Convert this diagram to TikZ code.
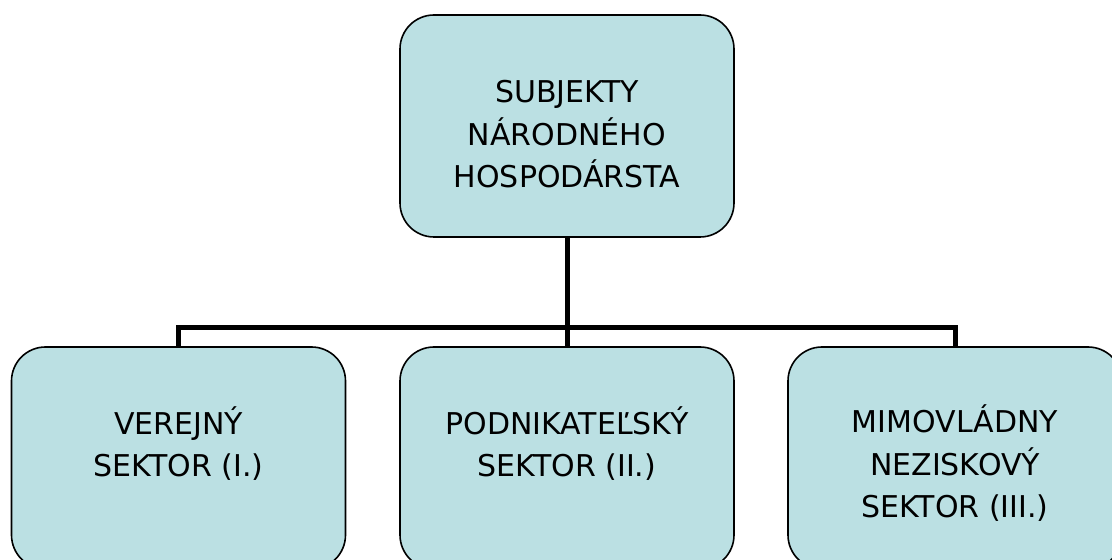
\documentclass[tikz,border=0pt]{standalone}
\usepackage{fontspec}
\setmainfont{DejaVu Sans}
\definecolor{boxfill}{RGB}{187,224,227}
\begin{document}
\begin{tikzpicture}[x=1pt,y=1pt,
  box/.style={draw=black, line width=1.6pt, fill=boxfill, rounded corners=34pt,
    minimum width=334pt, minimum height=222pt, inner sep=0pt},
  lbl/.style={align=center, inner sep=0pt, font=\fontsize{30}{42.5}\selectfont, anchor=base},
  conn/.style={draw=black, line width=5pt, line join=miter}]
\useasboundingbox (0,0) rectangle (1112,560);
\node[box] (top) at (567,434) {};
\node[box] (left) at (178.5,102) {};
\node[box] (mid) at (567,102) {};
\node[box] (right) at (955,102) {};
\coordinate (bar) at (567,232);
\draw[conn] (top.south) -- (bar);
\draw[conn] (left.north) -- (left.north |- bar) -- (right.north |- bar) -- (right.north);
\draw[conn] (mid.north) -- (bar);
\node[lbl] (ttop) at (567,372) {SUBJEKTY\\ NÁRODNÉHO\\HOSPODÁRSTA};
\node[lbl] (tleft) at (178.5,83) {VEREJNÝ\\SEKTOR (I.)};
\node[lbl] (tmid) at (567,83) {PODNIKATEĽSKÝ\\SEKTOR (II.)};
\node[lbl] (tright) at (955,42) {MIMOVLÁDNY\\NEZISKOVÝ\\SEKTOR (III.)};
\end{tikzpicture}
\end{document}
